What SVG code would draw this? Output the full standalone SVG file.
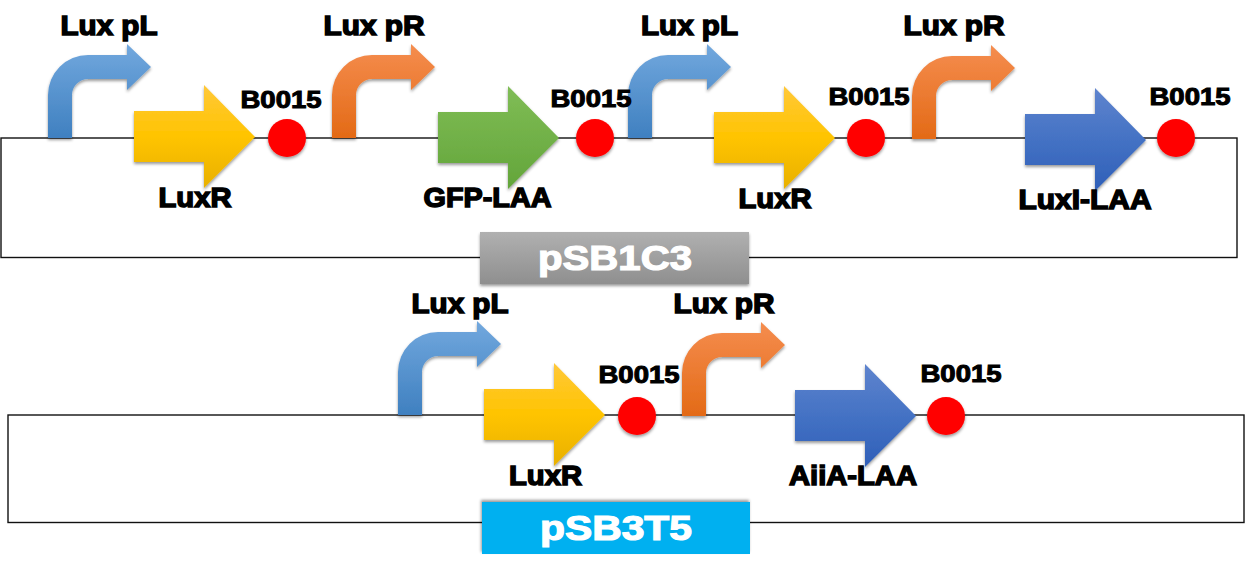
<svg xmlns="http://www.w3.org/2000/svg" width="1247" height="575" viewBox="0 0 1247 575">
<defs>
<linearGradient id="gb" x1="0" y1="0" x2="0" y2="1"><stop offset="0" stop-color="#72a8de"/><stop offset="1" stop-color="#3f80c0"/></linearGradient>
<linearGradient id="go" x1="0" y1="0" x2="0" y2="1"><stop offset="0" stop-color="#f58d4f"/><stop offset="1" stop-color="#e36a16"/></linearGradient>
<linearGradient id="gy" x1="0" y1="0" x2="0" y2="1"><stop offset="0" stop-color="#ffc83a"/><stop offset="0.5" stop-color="#ffc400"/><stop offset="1" stop-color="#e8b000"/></linearGradient>
<linearGradient id="gg" x1="0" y1="0" x2="0" y2="1"><stop offset="0" stop-color="#80bd56"/><stop offset="1" stop-color="#63a53a"/></linearGradient>
<linearGradient id="gd" x1="0" y1="0" x2="0" y2="1"><stop offset="0" stop-color="#5f84ce"/><stop offset="0.5" stop-color="#4472c4"/><stop offset="1" stop-color="#2f5fb8"/></linearGradient>
<linearGradient id="gs" x1="0" y1="0" x2="0" y2="1"><stop offset="0" stop-color="#b0b0b0"/><stop offset="1" stop-color="#8f8f8f"/></linearGradient>
<filter id="sh" x="-15%" y="-15%" width="130%" height="130%"><feDropShadow dx="0" dy="2" stdDeviation="1.5" flood-color="#000" flood-opacity="0.4"/></filter>
<filter id="shu" x="-5%" y="-15%" width="110%" height="130%"><feDropShadow dx="-1" dy="-2" stdDeviation="1.5" flood-color="#000" flood-opacity="0.4"/></filter>
<path id="bent" d="M0 0V-43A40 40 0 0 1 40 -83H79V-94L103 -71L79 -48V-59H40A16 16 0 0 0 24 -43V0Z"/>
<path id="gene" d="M0 -26H70V-52L121 0L70 51V25H0Z"/>
</defs>
<style>
.t{font-family:"Liberation Sans",Arial,sans-serif;font-weight:700;fill:#000;stroke:#000;stroke-width:1.5;text-anchor:middle}
.l{font-size:28px}
.b{font-size:23.5px;stroke-width:1}
.p{font-family:"Liberation Sans",Arial,sans-serif;font-weight:700;font-size:35px;fill:#fff;stroke:#fff;stroke-width:1.2;text-anchor:middle}
.sh{filter:url(#sh)}
</style>
<g id="connectors" fill="none" stroke="#111" stroke-width="1.4">
<rect x="1" y="138" width="1236" height="119.5"/>
<rect x="8" y="415" width="1236" height="107.5"/>
</g>
<g id="n1" class="sh"><use href="#bent" x="48" y="138" fill="url(#gb)"/></g>
<g id="n2" class="sh"><use href="#bent" x="332" y="138" fill="url(#go)"/></g>
<g id="n3" class="sh"><use href="#bent" x="628" y="138" fill="url(#gb)"/></g>
<g id="n4" class="sh"><use href="#bent" x="912" y="139" fill="url(#go)"/></g>
<g id="n5" class="sh"><use href="#gene" x="134" y="137" fill="url(#gy)"/></g>
<g id="n6" class="sh"><use href="#gene" x="438" y="138" fill="url(#gg)"/></g>
<g id="n7" class="sh"><use href="#gene" x="714" y="138" fill="url(#gy)"/></g>
<g id="n8" class="sh"><use href="#gene" x="1025" y="140" fill="url(#gd)"/></g>
<g id="n9" class="sh"><circle cx="287" cy="138" r="19" fill="#f00"/></g>
<g id="n10" class="sh"><circle cx="595" cy="138" r="19" fill="#f00"/></g>
<g id="n11" class="sh"><circle cx="866" cy="138" r="19" fill="#f00"/></g>
<g id="n12" class="sh"><circle cx="1176" cy="138" r="19" fill="#f00"/></g>
<g id="n13" class="sh"><use href="#bent" x="398" y="415" fill="url(#gb)"/></g>
<g id="n14" class="sh"><use href="#bent" x="682" y="416" fill="url(#go)"/></g>
<g id="n15" class="sh"><use href="#gene" x="484" y="415" fill="url(#gy)"/></g>
<g id="n16" class="sh"><use href="#gene" x="795" y="416" fill="url(#gd)"/></g>
<g id="n17" class="sh"><circle cx="637" cy="416" r="19" fill="#f00"/></g>
<g id="n18" class="sh"><circle cx="946" cy="416" r="19" fill="#f00"/></g>
<g id="n19"><rect class="sh" x="480" y="232" width="269" height="52" fill="url(#gs)"/><text class="p" x="615" y="270" textLength="154" lengthAdjust="spacingAndGlyphs">pSB1C3</text></g>
<g id="n20"><rect filter="url(#shu)" x="482" y="502" width="268" height="52" fill="#00b0f0"/><text class="p" x="616" y="540" textLength="152" lengthAdjust="spacingAndGlyphs">pSB3T5</text></g>
<g id="labels">
<text class="t l" x="109" y="35" textLength="97" lengthAdjust="spacingAndGlyphs">Lux pL</text>
<text class="t l" x="374" y="35" textLength="101" lengthAdjust="spacingAndGlyphs">Lux pR</text>
<text class="t l" x="689.5" y="35" textLength="97" lengthAdjust="spacingAndGlyphs">Lux pL</text>
<text class="t l" x="954" y="35" textLength="101" lengthAdjust="spacingAndGlyphs">Lux pR</text>
<text class="t l" x="460" y="313" textLength="97" lengthAdjust="spacingAndGlyphs">Lux pL</text>
<text class="t l" x="724" y="313" textLength="101" lengthAdjust="spacingAndGlyphs">Lux pR</text>
<text class="t l" x="195" y="207" textLength="73" lengthAdjust="spacingAndGlyphs">LuxR</text>
<text class="t l" x="487.5" y="207" textLength="128" lengthAdjust="spacingAndGlyphs">GFP-LAA</text>
<text class="t l" x="775" y="208" textLength="73" lengthAdjust="spacingAndGlyphs">LuxR</text>
<text class="t l" x="1085" y="209" textLength="133" lengthAdjust="spacingAndGlyphs">LuxI-LAA</text>
<text class="t l" x="545.5" y="485" textLength="73" lengthAdjust="spacingAndGlyphs">LuxR</text>
<text class="t l" x="853" y="485" textLength="128" lengthAdjust="spacingAndGlyphs">AiiA-LAA</text>
<text class="t b" x="281" y="108" textLength="81" lengthAdjust="spacingAndGlyphs">B0015</text>
<text class="t b" x="591" y="107" textLength="81" lengthAdjust="spacingAndGlyphs">B0015</text>
<text class="t b" x="869" y="105" textLength="81" lengthAdjust="spacingAndGlyphs">B0015</text>
<text class="t b" x="1190" y="105" textLength="81" lengthAdjust="spacingAndGlyphs">B0015</text>
<text class="t b" x="639" y="383" textLength="81" lengthAdjust="spacingAndGlyphs">B0015</text>
<text class="t b" x="961" y="382" textLength="81" lengthAdjust="spacingAndGlyphs">B0015</text>
</g>
</svg>
